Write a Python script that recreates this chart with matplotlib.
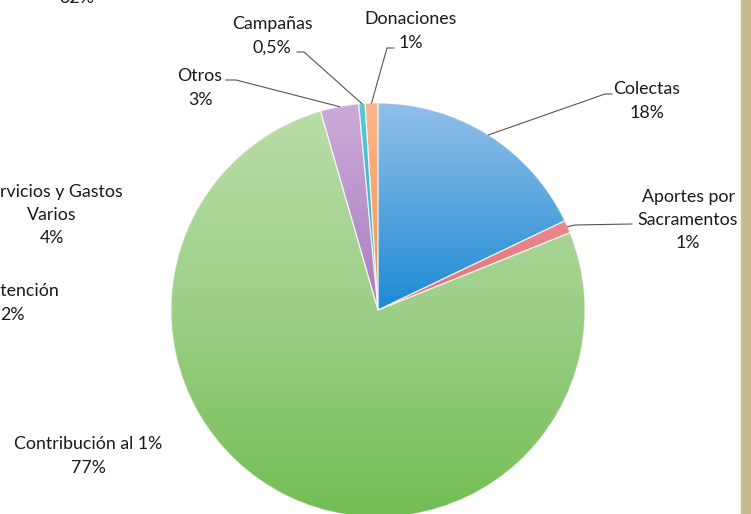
import numpy as np
import matplotlib
matplotlib.use("Agg")
from matplotlib import pyplot as plt
from matplotlib.colors import LinearSegmentedColormap
from matplotlib.patches import Rectangle

# data of the pie (clockwise from 12 o'clock)
labels = ["Colectas", "Aportes por\nSacramentos", "Contribución al 1%", "Otros", "Campañas", "Donaciones"]
pct_text = ["18%", "1%", "77%", "3%", "0,5%", "1%"]
values = [18, 1, 77, 3, 0.5, 1]

# labels of the neighbour chart that is cut off on the left
side_labels = ["Servicios y Gastos\nVarios\n4%", "Mantención\n2%", "32%"]

# colours (top, middle, bottom of the gradient)
shades = [
    ("#98c2ea", "#1c8ad3", "#1c8ad3"),
    ("#f2a4a8", "#e2737a", "#e2737a"),
    ("#bcdea9", "#9dcf88", "#70bd50"),
    ("#cdaddb", "#a97ebe", "#a97ebe"),
    ("#5ec8d8", "#1ca9c0", "#1ca9c0"),
    ("#fbb98e", "#f49050", "#f49050"),
]

W, H = 751, 514


def Y(y):
    # pixel row from the top -> data y
    return H - y


fig = plt.figure(figsize=(W / 100, H / 100), dpi=100)
ax = fig.add_axes([0, 0, 1, 1])

cx, cy, R = 378, Y(310), 207
explode = [0, 0, 0.02, 0, 0, 0]

wedges, _ = ax.pie(values, colors=[s[1] for s in shades], startangle=90, counterclock=False,
                   radius=R, center=(cx, cy), explode=explode,
                   wedgeprops=dict(linewidth=0.9, edgecolor=(1, 1, 1, 0.6)))

# vertical gradient inside every slice
grad = np.linspace(0, 1, 256).reshape(-1, 1)
for w, (top, mid, bot) in zip(wedges, shades):
    cmap = LinearSegmentedColormap.from_list("s", [bot, mid, top])
    im = ax.imshow(grad, cmap=cmap, origin="lower", aspect="auto", interpolation="bilinear",
                   extent=(cx - R - 10, cx + R + 10, cy - R - 10, cy + R + 10), zorder=2)
    im.set_clip_path(w)
    w.set_facecolor("none")
    w.set_zorder(3)

# label positions (centre of the text block) and leader elbows, in pixels from top-left
label_pos = [(647, 101), (688, 220), (88, 456), (200, 88), (272, 36), (411, 31)]
leaders = [
    [(605, 94), (612, 94)],
    [(575, 225), (632, 224)],
    None,
    [(236, 80), (226, 80)],
    [(304, 52), (297, 52)],
    [(387, 48), (394, 48)],
]

txt_kw = dict(fontsize=12.8, color="#1a1a1a", ha="center", va="center",
              linespacing=1.55, family=["Lato", "DejaVu Sans"])

for w, lab, pct, pos, ld in zip(wedges, labels, pct_text, label_pos, leaders):
    ax.text(pos[0], Y(pos[1]), lab + "\n" + pct, zorder=5, **txt_kw)
    if ld is None:
        continue
    ang = np.deg2rad((w.theta1 + w.theta2) / 2)
    x0 = w.center[0] + R * np.cos(ang)
    y0 = w.center[1] + R * np.sin(ang)
    xs = [x0] + [p[0] for p in ld]
    ys = [y0] + [Y(p[1]) for p in ld]
    ax.plot(xs, ys, color="#555555", lw=0.8, zorder=4)

# cut-off labels of the other chart
side_pos = [(52, 215), (12, 303), (77, -2)]
for lab, pos in zip(side_labels, side_pos):
    ax.text(pos[0], Y(pos[1]), lab, zorder=5, **txt_kw)

# border strip on the right
fig.patches.append(Rectangle((741 / W, 0), 10 / W, 1, transform=fig.transFigure,
                             color="#c8bb8e", zorder=10))

ax.set_xlim(0, W)
ax.set_ylim(0, H)
ax.set_aspect("auto")
ax.axis("off")

fig.savefig("out.png", dpi=100)
